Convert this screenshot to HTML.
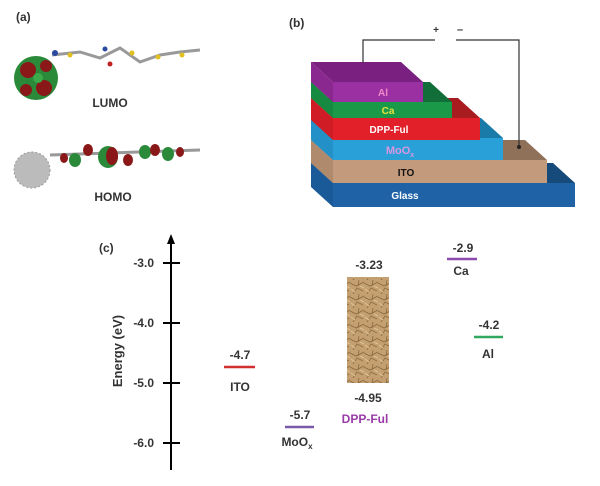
<!DOCTYPE html>
<html><head><meta charset="utf-8"><style>
html,body{margin:0;padding:0;background:#fff;}
svg{display:block;font-family:"Liberation Sans",sans-serif;font-weight:bold;}
</style></head><body>
<svg width="600" height="486" viewBox="0 0 600 486" xmlns="http://www.w3.org/2000/svg">
<defs>
<pattern id="crum" width="14" height="14" patternUnits="userSpaceOnUse">
<rect width="14" height="14" fill="#c4a070"/>
<path d="M0 3 L6 6 L14 2 M3 14 L7 8 L13 11 M9 0 L8 6" stroke="#8a6a40" stroke-width="0.8" fill="none"/>
<path d="M1 9 L5 12 M10 6 L14 8" stroke="#e0c8a0" stroke-width="0.8"/>
</pattern>
</defs>
<!-- (a) -->
<text x="16" y="21" font-size="12" fill="#333">(a)</text>
<circle cx="36" cy="78" r="22" fill="#2a8a3a"/>
<circle cx="28" cy="70" r="8" fill="#8a1818"/><circle cx="44" cy="88" r="8" fill="#8a1818"/><circle cx="26" cy="90" r="6" fill="#8a1818"/><circle cx="46" cy="66" r="6" fill="#8a1818"/><circle cx="38" cy="78" r="5" fill="#3aaa4a"/>
<path d="M52 55 L80 52 L100 58 L120 48 L140 62 L160 55 L180 52 L200 50" stroke="#999" stroke-width="3" fill="none"/>
<circle cx="55" cy="53" r="3" fill="#2a4aa0"/><circle cx="70" cy="55" r="2.5" fill="#e0c020"/><circle cx="105" cy="49" r="2.5" fill="#2a4aa0"/><circle cx="110" cy="64" r="2.5" fill="#c02020"/><circle cx="132" cy="53" r="2.5" fill="#e0c020"/><circle cx="158" cy="57" r="2.5" fill="#e0c020"/><circle cx="182" cy="55" r="2.5" fill="#e0c020"/>
<text x="110" y="107" font-size="12" fill="#333" text-anchor="middle">LUMO</text>
<circle cx="32" cy="170" r="18" fill="#bbb" stroke="#999" stroke-dasharray="2 2"/>
<path d="M50 155 L200 150" stroke="#999" stroke-width="3"/>
<ellipse cx="75" cy="160" rx="6" ry="7" fill="#2a8a3a"/><ellipse cx="88" cy="150" rx="5" ry="6" fill="#8a1818"/><ellipse cx="108" cy="157" rx="10" ry="11" fill="#2a8a3a"/><ellipse cx="112" cy="156" rx="6" ry="9" fill="#8a1818"/><ellipse cx="128" cy="160" rx="5" ry="6" fill="#8a1818"/><ellipse cx="145" cy="152" rx="6" ry="7" fill="#2a8a3a"/><ellipse cx="155" cy="150" rx="5" ry="6" fill="#8a1818"/><ellipse cx="168" cy="154" rx="6" ry="7" fill="#2a8a3a"/><ellipse cx="180" cy="152" rx="4" ry="5" fill="#8a1818"/><ellipse cx="64" cy="158" rx="4" ry="5" fill="#8a1818"/>
<text x="113" y="201" font-size="12" fill="#333" text-anchor="middle">HOMO</text>
<!-- (b) -->
<text x="289" y="27" font-size="12" fill="#333">(b)</text>
<!-- Glass -->
<polygon points="311,163 553,163 575,183 333,183" fill="#164a7a"/>
<polygon points="311,163 333,183 333,207 311,187" fill="#1a5a98"/>
<rect x="333" y="183" width="242" height="24" fill="#1f62a6"/>
<!-- ITO -->
<polygon points="311,140 525,140 547,160 333,160" fill="#8f7058"/>
<polygon points="311,140 333,160 333,183 311,163" fill="#b08a6c"/>
<rect x="333" y="160" width="214" height="23" fill="#c49a7c"/>
<!-- MoOx -->
<polygon points="311,118 481,118 503,138 333,138" fill="#1a7aa8"/>
<polygon points="311,118 333,138 333,160 311,140" fill="#2490c8"/>
<rect x="333" y="138" width="170" height="22" fill="#2aa0d8"/>
<!-- DPP -->
<polygon points="311,98 458,98 480,118 333,118" fill="#a81c20"/>
<polygon points="311,98 333,118 333,140 311,120" fill="#d01c24"/>
<rect x="333" y="118" width="147" height="22" fill="#e2202a"/>
<!-- Ca -->
<polygon points="311,82 430,82 452,102 333,102" fill="#126e38"/>
<polygon points="311,82 333,102 333,118 311,98" fill="#168a40"/>
<rect x="333" y="102" width="119" height="16" fill="#1a9a48"/>
<!-- Al -->
<polygon points="311,62 401,62 423,82 333,82" fill="#7a2080"/>
<polygon points="311,62 333,82 333,102 311,82" fill="#8a2890"/>
<rect x="333" y="82" width="90" height="20" fill="#9a30a2"/>
<!-- wires -->
<polyline points="363,63 363,40 435,40" stroke="#333" stroke-width="1.2" fill="none"/>
<polyline points="456,40 519,40 519,147" stroke="#333" stroke-width="1.2" fill="none"/>
<circle cx="519" cy="147" r="2" fill="#222"/>
<text x="436" y="33" font-size="10" fill="#333" text-anchor="middle">+</text>
<text x="460" y="33" font-size="11" fill="#333" text-anchor="middle">–</text>
<text x="383" y="96" font-size="10" fill="#f088c8" text-anchor="middle">Al</text>
<text x="388" y="114" font-size="10" fill="#e8e040" text-anchor="middle">Ca</text>
<text x="389" y="133" font-size="10" fill="#fff" text-anchor="middle">DPP-Ful</text>
<text x="400" y="154" font-size="11" fill="#d898e0" text-anchor="middle">MoO<tspan font-size="7" dy="3">x</tspan></text>
<text x="406" y="176" font-size="10" fill="#111" text-anchor="middle">ITO</text>
<text x="405" y="199" font-size="10" fill="#fff" text-anchor="middle">Glass</text>
<!-- (c) -->
<text x="99" y="252" font-size="12" fill="#333">(c)</text>
<line x1="171" y1="240" x2="171" y2="470" stroke="#000" stroke-width="2"/>
<polygon points="171,234 167,244 175,244" fill="#000"/>
<g stroke="#000" stroke-width="2">
<line x1="163" y1="263" x2="180" y2="263"/><line x1="163" y1="323" x2="180" y2="323"/><line x1="163" y1="383" x2="180" y2="383"/><line x1="163" y1="443" x2="180" y2="443"/></g>
<g font-size="12" fill="#333" text-anchor="end">
<text x="154" y="267">-3.0</text><text x="154" y="327">-4.0</text><text x="154" y="387">-5.0</text><text x="154" y="447">-6.0</text></g>
<text transform="translate(122,351) rotate(-90)" font-size="13" fill="#333" text-anchor="middle">Energy (eV)</text>
<g font-size="12" fill="#333" text-anchor="middle">
<line x1="224" y1="367" x2="255" y2="367" stroke="#d03030" stroke-width="2.5"/>
<text x="240" y="359">-4.7</text><text x="240" y="391">ITO</text>
<line x1="285" y1="427" x2="314" y2="427" stroke="#7a5aa8" stroke-width="2.5"/>
<text x="300" y="419">-5.7</text><text x="297" y="446">MoO<tspan font-size="8" dy="3">x</tspan></text>
<rect x="347" y="277" width="42" height="106" fill="url(#crum)"/>
<text x="369" y="269">-3.23</text><text x="368" y="402">-4.95</text>
<text x="365" y="423" fill="#9a3aa8">DPP-Ful</text>
<line x1="447" y1="259" x2="477" y2="259" stroke="#8a4ab0" stroke-width="2.5"/>
<text x="463" y="252">-2.9</text><text x="461" y="275">Ca</text>
<line x1="474" y1="337" x2="503" y2="337" stroke="#30a860" stroke-width="2.5"/>
<text x="489" y="329">-4.2</text><text x="488" y="358">Al</text>
</g>
</svg>
</body></html>
